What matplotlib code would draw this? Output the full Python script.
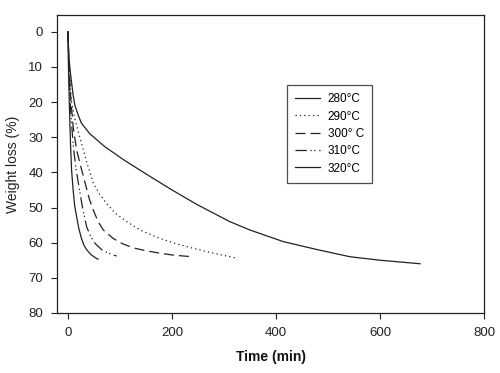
import matplotlib
matplotlib.use("Agg")
import matplotlib.pyplot as plt

plt.rcParams['font.family'] = ['Liberation Sans', 'DejaVu Sans']

t280 = [0, 1, 2, 5, 10, 13.5, 20, 26, 42, 71, 110, 154, 200, 250, 311, 350, 414, 480, 542, 600, 677]
w280 = [0, 4, 7.5, 12, 18, 21, 23.8, 26, 29, 32.7, 36.7, 40.8, 45, 49.3, 54, 56.4, 59.7, 62, 64, 65, 66]

t290 = [0, 2, 4, 7, 12, 20, 29.5, 38, 48.7, 60, 74, 90, 113, 140, 177, 210, 241, 280, 321]
w290 = [0, 9, 15, 20, 24, 28.5, 33.6, 38, 43, 46, 48.8, 51.5, 54, 56.5, 58.8, 60.4, 61.6, 63, 64.3]

t300 = [0, 2, 5, 10, 16.7, 25, 33, 41, 48.7, 58, 68, 87, 105, 126, 150, 177, 205, 240]
w300 = [0, 9, 18, 27, 33.6, 38.5, 43, 47.5, 50.7, 54, 56.4, 58.8, 60.3, 61.5, 62.3, 63, 63.6, 64]

t310 = [0, 2, 5, 10, 15, 20, 28, 36, 44, 52, 65, 75, 87, 93.6]
w310 = [0, 12, 22, 32, 38.5, 43, 50, 55.5, 58.3, 60.2, 62, 62.8, 63.5, 63.8]

t320 = [0, 1, 3, 5, 7, 10, 13, 16.7, 21, 26, 31, 36, 45, 55, 58]
w320 = [0, 10, 22, 32, 39.3, 45, 49.5, 52.6, 56, 58.8, 60.8, 62, 63.5, 64.5, 64.7]

labels = ['280°C', '290°C', '300° C', '310°C', '320°C']
xticks = [0, 200, 400, 600, 800]
yticks = [0, 10, 20, 30, 40, 50, 60, 70, 80]

fig = plt.figure(figsize=(5.0, 3.73), dpi=100)
ax = fig.add_axes([0.114, 0.161, 0.854, 0.799])

lc = '#222222'
ax.plot(t280, w280, color=lc, lw=0.9, linestyle='-', label=labels[0])
ax.plot(t290, w290, color=lc, lw=0.9, linestyle=(0, (1, 2.5)), label=labels[1])
ax.plot(t300, w300, color=lc, lw=0.9, linestyle=(0, (8, 4)), label=labels[2])
ax.plot(t310, w310, color=lc, lw=0.9, linestyle=(0, (9, 3, 1, 2, 1, 3)), label=labels[3])
ax.plot(t320, w320, color=lc, lw=0.9, linestyle='-', label=labels[4])

ax.set_xlim(-21, 800)
ax.set_ylim(80, -4.8)
ax.set_xticks(xticks)
ax.set_yticks(yticks)
ax.tick_params(direction='out', length=4, width=0.8, labelsize=9.5, colors='#222222', pad=6)
for s in ax.spines.values():
    s.set_linewidth(0.9)
    s.set_color('#222222')

ax.set_xlabel('Time (min)', fontsize=10, fontweight='bold', color='#111111', labelpad=8)
ax.set_ylabel('Weight loss (%)', fontsize=10, color='#222222', labelpad=6)

leg = ax.legend(loc='upper left', bbox_to_anchor=(0.573, 0.772), bbox_transform=fig.transFigure,
                borderaxespad=0, frameon=True, fancybox=False, shadow=False,
                fontsize=8.5, handlelength=2.1, labelspacing=0.45, handletextpad=0.7,
                borderpad=0.7)
leg.get_frame().set_edgecolor('#222222')
leg.get_frame().set_linewidth(0.9)

fig.savefig('out.png', dpi=100)
